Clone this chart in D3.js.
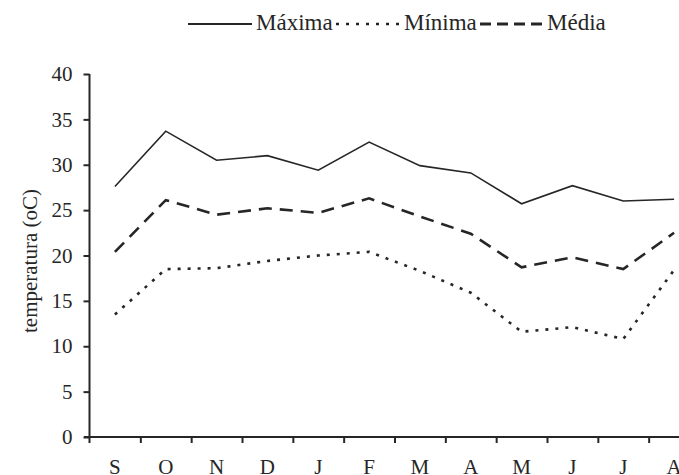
<!DOCTYPE html>
<html><head><meta charset="utf-8">
<script src="https://cdn.jsdelivr.net/npm/d3@7"></script>
<style>body{margin:0;background:#fff}svg{display:block}</style>
</head><body>
<svg id="c" width="679" height="475"></svg>
<script>
const months = ["S","O","N","D","J","F","M","A","M","J","J","A"];
const maxima = [27.6,33.7,30.5,31.0,29.4,32.5,29.9,29.1,25.7,27.7,26.0,26.2];
const minima = [13.5,18.5,18.6,19.4,20.0,20.4,18.3,15.9,11.6,12.1,10.8,18.4];
const media  = [20.4,26.1,24.5,25.2,24.7,26.3,24.3,22.4,18.7,19.8,18.5,22.5];
const yTicks = [0,5,10,15,20,25,30,35,40];
const seriesNames = ["Máxima","Mínima","Média"];

const svg = d3.select("#c");
const font = "'Liberation Serif','Times New Roman',serif";
const ink = "#262626";

const x = d3.scaleBand().domain(d3.range(months.length)).range([89.5, 699.5]).padding(0);
const xb = d3.scaleLinear().domain([0, months.length]).range([89.5, 699.5]);
const y = d3.scaleLinear().domain([0, 40]).range([437, 74]);

// y axis
const ya = svg.append("g").attr("transform","translate(89.5,0)")
  .call(d3.axisLeft(y).tickValues(yTicks).tickSize(6).tickPadding(11));
ya.select(".domain").attr("d", `M0,${y(40)}V${y(0)+6}`).attr("stroke", ink).attr("stroke-width",2);
ya.selectAll(".tick line").attr("stroke", ink).attr("stroke-width",2);
ya.selectAll(".tick text").attr("font-family", font).attr("font-size", 21).attr("fill", ink);

// x axis ticks at boundaries
const xa = svg.append("g").attr("transform",`translate(0,${y(0)})`)
  .call(d3.axisBottom(xb).tickValues(d3.range(1, months.length+1)).tickSize(6).tickFormat(""));
xa.select(".domain").attr("d", `M84,0H${xb(months.length)}`).attr("stroke", ink).attr("stroke-width",2);
xa.selectAll(".tick line").attr("stroke", ink).attr("stroke-width",2);

// x labels at centers
const xl = svg.append("g").attr("transform",`translate(0,${y(0)})`)
  .call(d3.axisBottom(x).tickSize(0).tickPadding(22).tickFormat(i => months[i]));
xl.select(".domain").remove();
xl.selectAll(".tick text").attr("font-family", font).attr("font-size", 21).attr("fill", ink);

// y title
svg.append("text")
  .attr("transform", `translate(37,261) rotate(-90)`)
  .attr("text-anchor","middle")
  .attr("font-family", font).attr("font-size", 21).attr("fill", ink)
  .text("temperatura (oC)");

const line = d3.line().x((d,i) => x(i) + x.bandwidth()/2).y(d => y(d));

const styles = [
  {data: maxima, dash: null, w: 1.6},
  {data: minima, dash: "3,7", w: 2.6},
  {data: media, dash: "13,8", w: 2.6}
];
styles.forEach(s => {
  svg.append("path").datum(s.data).attr("d", line)
    .attr("fill","none").attr("stroke", ink).attr("stroke-width", s.w)
    .attr("stroke-dasharray", s.dash);
});

// legend
const leg = [
  {x0:188, x1:252, tx:256, dash:null, w:1.8},
  {x0:336, x1:402, tx:404, dash:"3,7", w:2.6},
  {x0:480, x1:546, tx:547, dash:"11,6", w:2.8}
];
leg.forEach((l,i) => {
  svg.append("line").attr("x1", l.x0).attr("x2", l.x1).attr("y1", 24).attr("y2", 24)
    .attr("stroke", ink).attr("stroke-width", l.w).attr("stroke-dasharray", l.dash);
  svg.append("text").attr("x", l.tx).attr("y", 30)
    .attr("font-family", font).attr("font-size", 23).attr("fill", ink)
    .text(seriesNames[i]);
});
</script>
</body></html>
